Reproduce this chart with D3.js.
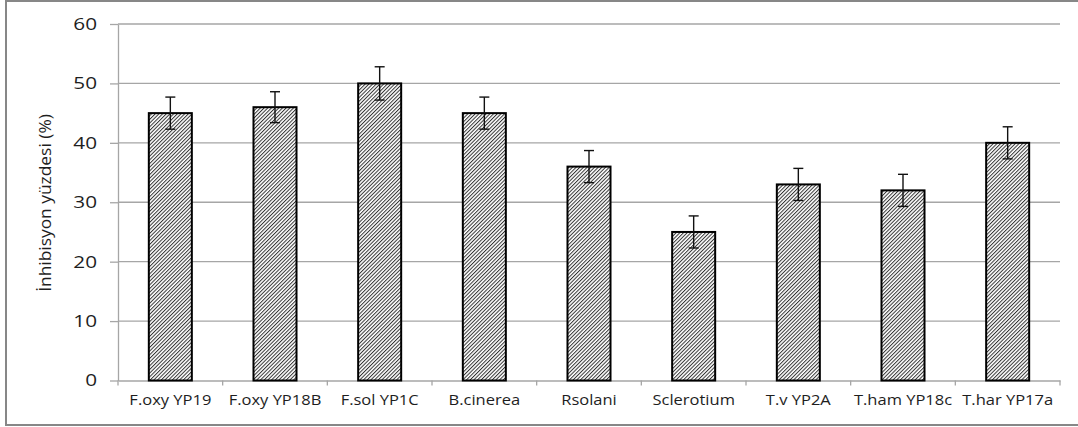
<!DOCTYPE html>
<html>
<head>
<meta charset="utf-8">
<script src="https://cdn.jsdelivr.net/npm/d3@7"></script>
<style>
  html, body { margin: 0; padding: 0; background: #fff; }
  svg { display: block; }
</style>
</head>
<body>
<svg id="chart" width="1078" height="427"></svg>
<script>
const categories = ["F.oxy YP19", "F.oxy YP18B", "F.sol YP1C", "B.cinerea", "Rsolani", "Sclerotium", "T.v YP2A", "T.ham YP18c", "T.har YP17a"];
const values = [45, 46, 50, 45, 36, 25, 33, 32, 40];
const errors = [2.7, 2.6, 2.8, 2.7, 2.7, 2.7, 2.7, 2.7, 2.7];
const yTicks = [0, 10, 20, 30, 40, 50, 60];
const yLabel = "İnhibisyon yüzdesi (%)";

const svg = d3.select("#chart");
const font = "'Open Sans', sans-serif";

function stretch(sel, f) {
  sel.each(function () {
    const w = this.getComputedTextLength();
    this.setAttribute("textLength", w * f);
    this.setAttribute("lengthAdjust", "spacingAndGlyphs");
  });
}

// frame
svg.append("rect")
  .attr("x", 6).attr("y", 1).attr("width", 1090).attr("height", 424)
  .attr("fill", "none").attr("stroke", "#878787").attr("stroke-width", 2);

const x = d3.scaleBand().domain(categories).range([118, 1060])
  .paddingInner(0.589).paddingOuter(0.2945);
const y = d3.scaleLinear().domain([0, 60]).range([380.5, 24]);

// hatch pattern
const defs = svg.append("defs");
const pat = defs.append("pattern")
  .attr("id", "hatch").attr("patternUnits", "userSpaceOnUse")
  .attr("width", 2.6).attr("height", 2.6)
  .attr("patternTransform", "rotate(45)");
pat.append("rect").attr("width", 2.6).attr("height", 2.6).attr("fill", "#fff");
pat.append("line").attr("x1", 0.5).attr("y1", 0).attr("x2", 0.5).attr("y2", 2.6)
  .attr("stroke", "#333").attr("stroke-width", 1);

// gridlines
svg.append("g").selectAll("line").data(yTicks.filter(d => d > 0)).join("line")
  .attr("x1", 118).attr("x2", 1060)
  .attr("y1", d => y(d)).attr("y2", d => y(d))
  .attr("stroke", "#a6a6a6").attr("stroke-width", 1.3);

// y axis
const yAxis = svg.append("g").attr("transform", "translate(118,0)")
  .call(d3.axisLeft(y).tickValues(yTicks).tickSize(8).tickPadding(13).tickSizeOuter(0));
yAxis.select(".domain").attr("stroke", "#a6a6a6").attr("stroke-width", 1.3);
yAxis.selectAll(".tick line").attr("stroke", "#a6a6a6").attr("stroke-width", 1.3);
yAxis.selectAll(".tick text").attr("font-family", font).attr("font-size", 17).attr("fill", "#1e1e1e");
stretch(yAxis.selectAll(".tick text"), 1.22);

// x axis
const xAxis = svg.append("g").attr("transform", `translate(0,${y(0)})`)
  .call(d3.axisBottom(x).tickSize(0).tickPadding(14).tickSizeOuter(0));
xAxis.select(".domain").attr("stroke", "#a6a6a6").attr("stroke-width", 1.3);
xAxis.selectAll(".tick text").attr("font-family", font).attr("font-size", 14.6).attr("fill", "#1e1e1e");
stretch(xAxis.selectAll(".tick text"), 1.13);
// category boundary ticks
const bounds = d3.range(categories.length + 1).map(i => 118 + i * x.step());
svg.append("g").selectAll("line").data(bounds).join("line")
  .attr("x1", d => d).attr("x2", d => d)
  .attr("y1", y(0)).attr("y2", y(0) + 5)
  .attr("stroke", "#a6a6a6").attr("stroke-width", 1.3);

// bars
svg.append("g").selectAll("rect").data(values).join("rect")
  .attr("x", (d, i) => x(categories[i]))
  .attr("y", d => y(d))
  .attr("width", x.bandwidth())
  .attr("height", d => y(0) - y(d))
  .attr("fill", "url(#hatch)")
  .attr("stroke", "#000").attr("stroke-width", 2);

// error bars
const eb = svg.append("g").attr("stroke", "#111").attr("stroke-width", 1.4);
values.forEach((v, i) => {
  const cx = x(categories[i]) + x.bandwidth() / 2;
  const hi = y(v + errors[i]), lo = y(v - errors[i]);
  eb.append("line").attr("x1", cx).attr("x2", cx).attr("y1", hi).attr("y2", lo);
  eb.append("line").attr("x1", cx - 5).attr("x2", cx + 5).attr("y1", hi).attr("y2", hi);
  eb.append("line").attr("x1", cx - 5).attr("x2", cx + 5).attr("y1", lo).attr("y2", lo);
});

// y label
const yl = svg.append("text")
  .attr("transform", "translate(45,203) rotate(-90)")
  .attr("text-anchor", "middle").attr("dominant-baseline", "central")
  .attr("font-family", font).attr("font-size", 15.5).attr("fill", "#1e1e1e")
  .text(yLabel);
stretch(yl, 1.12);
</script>
</body>
</html>
